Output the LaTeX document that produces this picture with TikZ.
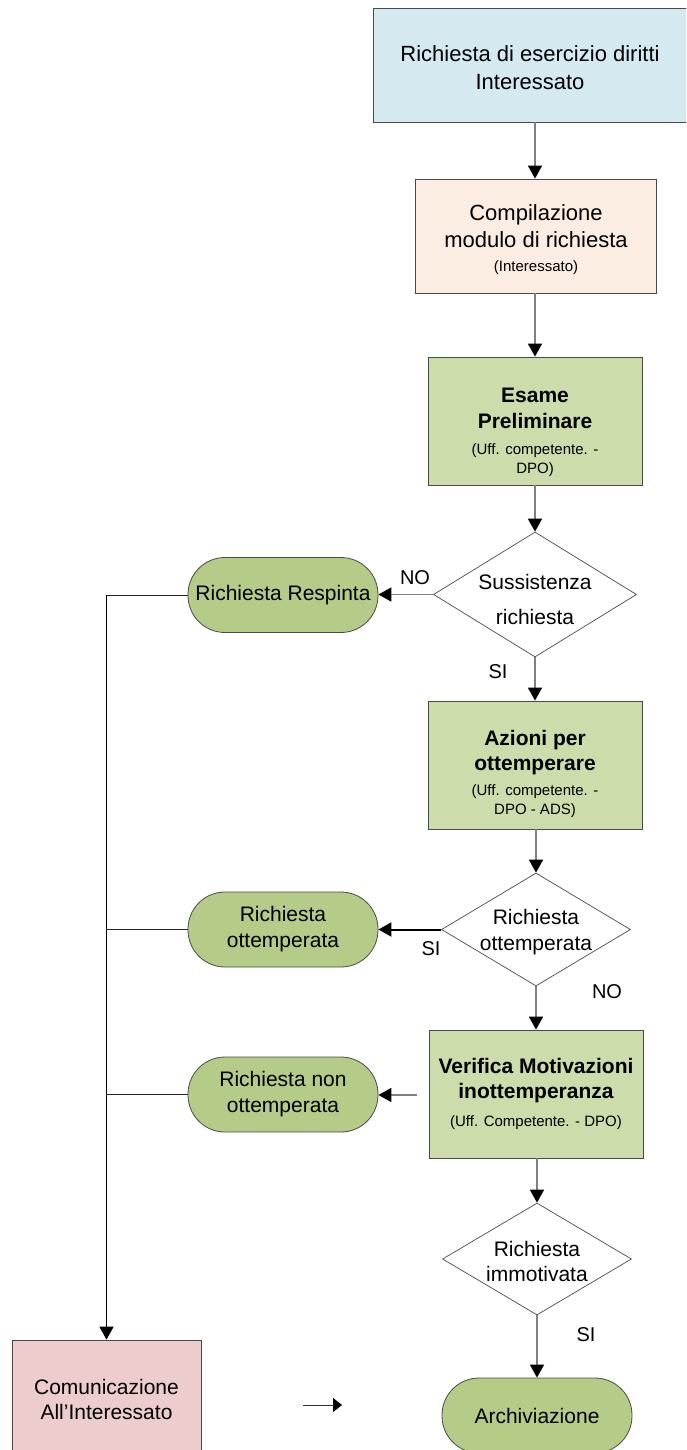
\documentclass[tikz,border=0pt]{standalone}
\usepackage{fontspec}
\setmainfont{Liberation Sans}
\usetikzlibrary{shapes.geometric,arrows.meta}
\definecolor{cblue}{HTML}{D4EAF0}
\definecolor{cpeach}{HTML}{FCEDE3}
\definecolor{cgreen}{HTML}{CCDCAA}
\definecolor{cgreentwo}{HTML}{B5CB88}
\definecolor{cpink}{HTML}{ECCCCC}
\definecolor{boxline}{HTML}{4A4A4A}
\definecolor{cline}{HTML}{808080}
\begin{document}
\begin{tikzpicture}[x=1pt,y=-1pt,
  box/.style={draw=boxline, line width=0.8pt, rectangle, inner sep=0pt},
  stad/.style={draw=boxline, line width=0.8pt, fill=cgreentwo, rectangle, rounded corners=37pt,
     minimum width=190pt, minimum height=75pt, inner sep=0pt, align=center, font=\fontsize{21}{26}\selectfont},
  dia/.style={diamond, draw=boxline, fill=white, inner sep=0pt, line width=0.7pt},
  txt/.style={align=center, inner sep=0pt, font=\fontsize{21}{26}\selectfont},
  btxt/.style={align=center, inner sep=0pt, font=\fontsize{21}{25}\selectfont\bfseries},
  stxt/.style={align=center, inner sep=0pt, font=\fontsize{15}{19}\selectfont},
  lbl/.style={inner sep=0pt, font=\fontsize{20}{24}\selectfont},
  conn/.style={draw=cline, line width=1.6pt, -{Triangle[length=13pt,width=14pt,color=black]}},
  bconn/.style={draw=black, line width=2pt, -{Triangle[length=13pt,width=14pt,color=black]}},
  collector/.style={draw=black, line width=1.5pt, -{Triangle[length=13pt,width=14pt,color=black]}},
  branchline/.style={draw=black!85, line width=1pt}
]
\useasboundingbox (0,0) rectangle (686,1450);
\clip (0,0) rectangle (686,1450);

% boxes
\node[box, fill=cblue, minimum width=317pt, minimum height=114pt] (b1) at (531.5,65) {};
\node[txt, font=\fontsize{22}{28}\selectfont] (t1) at (530,68) {Richiesta di esercizio diritti\\Interessato};

\node[box, fill=cpeach, minimum width=241pt, minimum height=114pt] (b2) at (535.5,236) {};
\node[txt, font=\fontsize{22}{27}\selectfont] (t2a) at (536,226) {Compilazione\\modulo di richiesta};
\node[stxt] (t2b) at (536,268) {(Interessato)};

\node[box, fill=cgreen, minimum width=214pt, minimum height=128pt] (b3) at (535,421) {};
\node[btxt, font=\fontsize{21}{26}\selectfont\bfseries] (t3a) at (535,408) {Esame\\Preliminare};
\node[stxt] (t3b) at (535,460) {(Uff. competente. -\\DPO)};

\node[dia, minimum width=203pt, minimum height=125pt] (d1) at (535,594.5) {};
\node[txt, font=\fontsize{21}{35}\selectfont] (d1t) at (535,599) {Sussistenza\\richiesta};

\node[stad] (resp) at (283,595) {Richiesta Respinta};

\node[box, fill=cgreen, minimum width=214pt, minimum height=128pt] (b4) at (535,765) {};
\node[btxt] (t4a) at (535,753) {Azioni per\\ottemperare};
\node[stxt] (t4b) at (535,801) {(Uff. competente. -\\DPO - ADS)};

\node[dia, minimum width=189pt, minimum height=113pt] (d2) at (536,929.5) {};
\node[txt] (d2t) at (536,932) {Richiesta\\ottemperata};

\node[stad] (ott) at (283,929.5) {Richiesta\\ottemperata};

\node[box, fill=cgreen, minimum width=214pt, minimum height=128pt] (b5) at (536,1094) {};
\node[btxt] (t5a) at (536,1081) {Verifica Motivazioni\\inottemperanza};
\node[stxt] (t5b) at (536,1123) {(Uff. Competente. - DPO)};

\node[stad] (nonott) at (283,1094.5) {Richiesta non\\ottemperata};

\node[dia, minimum width=189pt, minimum height=112pt] (d3) at (537,1259) {};
\node[txt, font=\fontsize{21}{25}\selectfont] (d3t) at (537,1261) {Richiesta\\immotivata};

\node[stad] (arch) at (537,1415.5) {Archiviazione};

\node[box, fill=cpink, minimum width=189pt, minimum height=130pt] (comm) at (106.5,1405) {};
\node[txt, font=\fontsize{21}{25}\selectfont] (commt) at (106.5,1399) {Comunicazione\\All’Interessato};

% labels
\node[lbl] (l1) at (415,578) {NO};
\node[lbl] (l2) at (498,672) {SI};
\node[lbl] (l3) at (431,949) {SI};
\node[lbl] (l4) at (607,992) {NO};
\node[lbl] (l5) at (586,1335) {SI};

% vertical connectors
\draw[conn] (b1.south -| d1) -- (b2.north -| d1);
\draw[conn] (b2.south -| d1) -- (b3.north -| d1);
\draw[conn] (b3.south -| d1) -- (d1.north);
\draw[conn] (d1.south) -- (b4.north -| d1);
\draw[conn] (b4.south -| d2) -- (d2.north);
\draw[conn] (d2.south) -- (b5.north -| d2);
\draw[conn] (b5.south -| d3) -- (d3.north);
\draw[conn] (d3.south) -- (arch.north);

% horizontal connectors
\draw[conn] (d1.west) -- (d1.west -| resp.east);
\draw[bconn] (d2.west) -- (d2.west -| ott.east);
\coordinate (c5) at (417,1095);
\draw[conn] (c5) -- (c5 -| nonott.east);

% left collector
\draw[branchline] (resp.west) -- (resp.west -| comm.north);
\draw[branchline] (ott.west) -- (ott.west -| comm.north);
\draw[branchline] (nonott.west) -- (nonott.west -| comm.north);
\draw[collector] (resp.west -| comm.north) -- (comm.north);

% small stray arrow
\coordinate (sa1) at (303,1405);
\coordinate (sa2) at (342,1405);
\draw[draw=black!80, line width=1pt, -{Triangle[length=9pt,width=14pt,color=black]}] (sa1) -- (sa2);
\end{tikzpicture}
\end{document}
